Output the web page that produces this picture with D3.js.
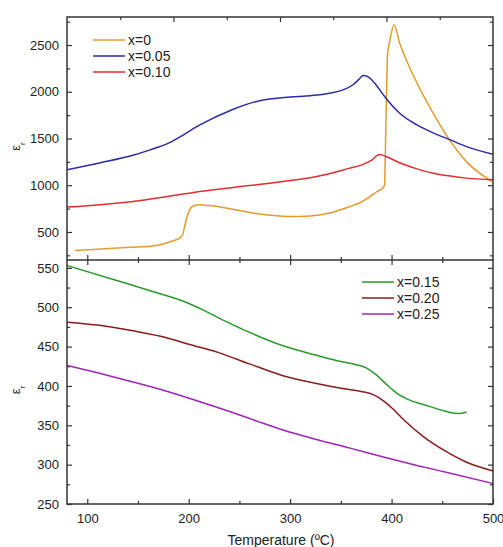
<!DOCTYPE html>
<html>
<head>
<meta charset="utf-8">
<script src="https://cdn.jsdelivr.net/npm/d3@7"></script>
<style>
  html, body { margin: 0; padding: 0; background: #fff; }
  svg { display: block; font-family: "Liberation Sans", Arial, sans-serif; }
</style>
</head>
<body>
<div id="chart"></div>
<script>
// temperature (ºC), permittivity
const seriesX000 = [[88,302],[110,315],[130,328],[150,340],[162,347],[175,372],[182,398],[191,435],[194,470],[196,560],[198,650],[201,740],[206,785],[211,790],[220,782],[235,760],[250,730],[265,700],[280,680],[300,665],[320,672],[340,705],[359,772],[370,820],[379,880],[386,935],[391,965],[393,1000],[394.5,1700],[396,2400],[397.8,2518],[402.5,2714],[408,2520],[415,2330],[425,2094],[440,1790],[455,1520],[474,1250],[499,1040]];
const seriesX005 = [[80,1165],[112,1238],[145,1320],[162,1378],[180,1450],[191,1515],[211,1645],[241,1800],[270,1905],[300,1944],[320,1958],[339,1985],[352,2020],[362,2075],[368,2135],[372,2175],[377,2160],[385,2070],[392,1966],[408,1770],[425,1645],[441,1560],[458,1485],[474,1413],[500,1332]];
const seriesX010 = [[80,766],[145,826],[179,879],[211,933],[260,997],[293,1040],[326,1093],[359,1183],[370,1215],[380,1265],[388,1330],[395,1305],[408,1240],[425,1175],[441,1129],[458,1098],[474,1076],[500,1058]];
const seriesX015 = [[80,553],[129,534],[162,521],[198,506],[215,496],[235,483],[260,468],[293,451],[326,439],[350,431],[365,427],[375,423],[385,414],[395,402],[405,391],[418,382],[435,375],[450,369],[465,365],[474,367]];
const seriesX020 = [[80,481],[112,477],[145,470],[179,461],[200,453],[228,443],[260,428],[293,413],[326,403],[350,397],[370,393],[382,389],[392,381],[402,370],[412,357],[432,335],[452,318],[474,303],[500,292]];
const seriesX025 = [[80,426],[112,416],[145,405],[179,393],[211,380],[244,366],[270,354],[293,344],[326,332],[359,321],[391,310],[425,299],[458,289],[500,276]];

const topSeries = [
  { name: 'x=0', data: seriesX000, color: '#e59a2c' },
  { name: 'x=0.05', data: seriesX005, color: '#2b2ba6' },
  { name: 'x=0.10', data: seriesX010, color: '#df2e2e' }
];
const bottomSeries = [
  { name: 'x=0.15', data: seriesX015, color: '#2a9a2a' },
  { name: 'x=0.20', data: seriesX020, color: '#8a1c1c' },
  { name: 'x=0.25', data: seriesX025, color: '#a024b8' }
];

const xDomain = [80, 500];
const xTicks = [100, 200, 300, 400, 500];
const topYDomain = [200, 2800];
const topYTicks = [500, 1000, 1500, 2000, 2500];
const bottomYDomain = [250, 560];
const bottomYTicks = [250, 300, 350, 400, 450, 500, 550];

const width = 503;
const height = 547;
const frame = { left: 67, right: 493, top: 17, mid: 260, bottom: 504 };

const svg = d3.select('#chart').append('svg')
  .attr('width', width)
  .attr('height', height);

const x = d3.scaleLinear().domain(xDomain).range([frame.left, frame.right]);
const yTop = d3.scaleLinear().domain(topYDomain).range([frame.mid, frame.top]);
const yBottom = d3.scaleLinear().domain(bottomYDomain).range([frame.bottom, frame.mid]);

const axisColor = '#333';
const fmt = d3.format('d');

function styleAxis(g) {
  g.select('.domain').remove();
  g.selectAll('line').attr('stroke', axisColor).attr('stroke-width', 1.2);
  g.selectAll('text').attr('fill', '#222').style('font-size', '13px');
}

function drawPanel(y, yTicks, minorStep, series, legendPos) {
  const [y0, y1] = y.domain();
  const minor = d3.range(Math.ceil(y0 / minorStep) * minorStep, y1 + 0.001, minorStep)
    .filter(v => !yTicks.includes(v));

  // left axis, inward ticks
  svg.append('g')
    .attr('transform', `translate(${frame.left},0)`)
    .call(d3.axisLeft(y).tickValues(yTicks).tickSize(-5).tickPadding(8).tickFormat(fmt))
    .call(styleAxis);
  svg.append('g')
    .attr('transform', `translate(${frame.left},0)`)
    .call(d3.axisLeft(y).tickValues(minor).tickSize(-3).tickFormat(''))
    .call(styleAxis);

  // right axis, inward ticks
  svg.append('g')
    .attr('transform', `translate(${frame.right},0)`)
    .call(d3.axisRight(y).tickValues(yTicks).tickSize(-5).tickFormat(''))
    .call(styleAxis);
  svg.append('g')
    .attr('transform', `translate(${frame.right},0)`)
    .call(d3.axisRight(y).tickValues(minor).tickSize(-3).tickFormat(''))
    .call(styleAxis);

  const line = d3.line()
    .x(d => x(d[0]))
    .y(d => y(d[1]))
    .curve(d3.curveMonotoneX);

  svg.append('g')
    .selectAll('path')
    .data(series)
    .join('path')
    .attr('fill', 'none')
    .attr('stroke', d => d.color)
    .attr('stroke-width', 1.5)
    .attr('d', d => line(d.data));

  const legend = svg.append('g')
    .attr('transform', `translate(${legendPos[0]},${legendPos[1]})`);
  series.forEach((s, i) => {
    const row = legend.append('g').attr('transform', `translate(0,${i * 16})`);
    row.append('line')
      .attr('x1', 0).attr('x2', 32)
      .attr('y1', 0).attr('y2', 0)
      .attr('stroke', s.color)
      .attr('stroke-width', 1.5);
    row.append('text')
      .attr('x', 35)
      .attr('y', 5)
      .style('font-size', '14px')
      .attr('fill', '#222')
      .text(s.name);
  });
}

drawPanel(yTop, topYTicks, 250, topSeries, [93, 40]);
drawPanel(yBottom, bottomYTicks, 25, bottomSeries, [362, 282]);

const xMinor = d3.range(150, 500, 100);

// top edge ticks: eight equal divisions
const topEdgeTicks = d3.range(1, 8).map(i => xDomain[0] + i * (xDomain[1] - xDomain[0]) / 8);
svg.append('g')
  .attr('transform', `translate(0,${frame.top})`)
  .call(d3.axisTop(x).tickValues(topEdgeTicks.filter((d, i) => i % 2 === 1)).tickSize(-5).tickFormat(''))
  .call(styleAxis);
svg.append('g')
  .attr('transform', `translate(0,${frame.top})`)
  .call(d3.axisTop(x).tickValues(topEdgeTicks.filter((d, i) => i % 2 === 0)).tickSize(-3).tickFormat(''))
  .call(styleAxis);

// shared middle axis, ticks crossing both ways
[1, -1].forEach(dir => {
  svg.append('g')
    .attr('transform', `translate(0,${frame.mid})`)
    .call(d3.axisBottom(x).tickValues(xTicks.filter(v => v < 500)).tickSize(5 * dir).tickFormat(''))
    .call(styleAxis);
  svg.append('g')
    .attr('transform', `translate(0,${frame.mid})`)
    .call(d3.axisBottom(x).tickValues(xMinor).tickSize(3 * dir).tickFormat(''))
    .call(styleAxis);
});

// bottom axis, inward ticks
svg.append('g')
  .attr('transform', `translate(0,${frame.bottom})`)
  .call(d3.axisBottom(x).tickValues(xTicks).tickSize(-5).tickPadding(10).tickFormat(fmt))
  .call(styleAxis);
svg.append('g')
  .attr('transform', `translate(0,${frame.bottom})`)
  .call(d3.axisBottom(x).tickValues(xMinor).tickSize(-3).tickFormat(''))
  .call(styleAxis);

// frame
svg.append('rect')
  .attr('x', frame.left).attr('y', frame.top)
  .attr('width', frame.right - frame.left).attr('height', frame.bottom - frame.top)
  .attr('fill', 'none')
  .attr('stroke', axisColor)
  .attr('stroke-width', 1.5);
svg.append('line')
  .attr('x1', frame.left).attr('x2', frame.right)
  .attr('y1', frame.mid).attr('y2', frame.mid)
  .attr('stroke', axisColor)
  .attr('stroke-width', 1.5);

// axis titles
function epsLabel(cy) {
  const t = svg.append('text')
    .attr('transform', `translate(20,${cy}) rotate(-90)`)
    .attr('text-anchor', 'middle')
    .style('font-size', '13px')
    .attr('fill', '#222');
  t.append('tspan').text('ε');
  t.append('tspan').attr('baseline-shift', 'sub').style('font-size', '8px').text('r');
}
epsLabel(yTop(1500) + 8);
epsLabel(yBottom(400) + 4);

svg.append('text')
  .attr('x', 281)
  .attr('y', 545)
  .attr('text-anchor', 'middle')
  .style('font-size', '14px')
  .attr('fill', '#222')
  .text('Temperature (ºC)');
</script>
</body>
</html>
